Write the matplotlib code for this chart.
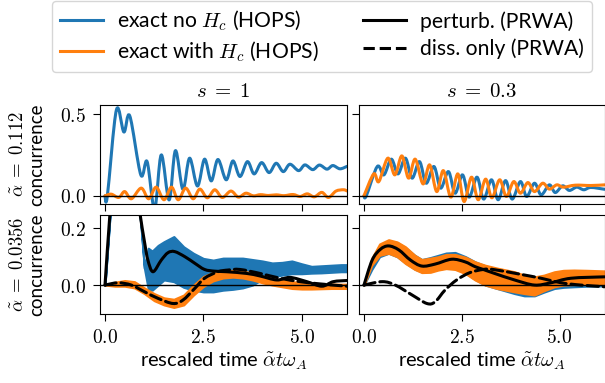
import matplotlib
matplotlib.use("Agg")
import matplotlib.pyplot as plt
from matplotlib.ticker import FormatStrFormatter
from matplotlib.lines import Line2D
from matplotlib.path import Path
from matplotlib.patches import PathPatch

plt.rcParams['mathtext.fontset'] = 'cm'
plt.rcParams['font.family'] = ['Lato', 'DejaVu Sans']
plt.rcParams['font.size'] = 14

C_NO = '#1f77b4'
C_WITH = '#ff7f0e'

# s = 1, alpha = 0.112 : exact curves (peaks / troughs)
t_a1_no = [0, 0.06, 0.29, 0.48, 0.63, 0.91, 1.07, 1.26, 1.43, 1.63, 1.79, 1.98,
           2.15, 2.35, 2.53, 2.70, 2.87, 3.08, 3.25, 3.43, 3.62, 3.79, 3.98, 4.17,
           4.35, 4.53, 4.70, 4.92, 5.08, 5.28, 5.45, 5.64, 5.79, 5.97, 6.15]
c_a1_no = [0, 0.0, 0.525, 0.39, 0.488, 0.128, 0.209, -0.08, 0.25, -0.025, 0.276, 0.04,
           0.23, 0.06, 0.224, 0.091, 0.222, 0.098, 0.213, 0.118, 0.209, 0.134, 0.203, 0.142,
           0.199, 0.148, 0.193, 0.154, 0.189, 0.16, 0.188, 0.163, 0.185, 0.165, 0.18]
t_a1_with = [0, 0.16, 0.35, 0.5, 0.67, 0.92, 1.11, 1.30, 1.50, 1.69, 1.86, 2.05, 2.24,
             2.41, 2.60, 2.79, 2.98, 3.20, 3.39, 3.58, 3.77, 3.95, 4.15, 4.35, 4.55,
             4.78, 4.96, 5.14, 5.32, 5.51, 5.68, 5.87, 6.06, 6.15]
c_a1_with = [0, 0.01, -0.01, 0.026, -0.018, 0.047, -0.018, 0.053, -0.024, 0.053, -0.024, 0.047, -0.018,
             0.041, -0.012, 0.037, -0.01, 0.029, -0.008, 0.016, 0.0, 0.007, 0.002, 0.006, 0.001,
             0.008, -0.004, 0.012, -0.006, 0.021, -0.01, 0.029, 0.037, 0.03]

# s = 0.3, alpha = 0.112
t_a3_no = [0, 0.06, 0.34, 0.51, 0.70, 0.87, 1.06, 1.23, 1.42, 1.59, 1.79, 1.96, 2.16, 2.33,
           2.52, 2.69, 2.89, 3.06, 3.26, 3.43, 3.62, 3.79, 4.0, 4.16, 4.36, 4.53, 4.74,
           4.89, 5.08, 5.25, 5.44, 5.62, 5.80, 6.15]
c_a3_no = [0, 0.0, 0.179, 0.128, 0.224, 0.134, 0.23, 0.108, 0.209, 0.077, 0.179, 0.047, 0.148, 0.016,
           0.128, -0.008, 0.114, -0.02, 0.098, -0.024, 0.093, -0.02, 0.087, -0.004, 0.077, 0.006, 0.067,
           0.02, 0.061, 0.033, 0.053, 0.037, 0.051, 0.04]
t_a3_with = [0, 0.25, 0.38, 0.61, 0.79, 0.97, 1.14, 1.31, 1.51, 1.68, 1.86, 2.03, 2.22, 2.40,
             2.56, 2.75, 2.92, 3.11, 3.27, 3.47, 3.64, 3.83, 4.0, 4.19, 4.36, 4.57, 4.74,
             4.93, 5.10, 5.4, 5.8, 6.15]
c_a3_with = [0, 0.134, 0.087, 0.23, 0.128, 0.244, 0.108, 0.224, 0.073, 0.189, 0.026, 0.154, -0.008, 0.134,
             -0.035, 0.114, -0.024, 0.102, -0.012, 0.098, -0.004, 0.087, 0.016, 0.081, 0.026, 0.077, 0.041,
             0.067, 0.053, 0.065, 0.063, 0.067]

# s = 1, alpha = 0.0356 : exact curves as envelopes of the fast oscillation
t_b1_no = [0, 0.13, 0.2, 0.85, 0.92, 1.0, 1.1, 1.2, 1.35, 1.5, 1.75, 2.0, 2.25, 2.5, 2.75,
           3.0, 3.25, 3.5, 3.75, 4.0, 4.25, 4.5, 4.75, 5.0, 5.25, 5.5, 5.75, 6.0, 6.15]
hi_b1_no = [0, 0.25, 0.30, 0.30, 0.20, 0.06, 0.13, 0.12, 0.14, 0.153, 0.171, 0.135, 0.112, 0.094, 0.088,
            0.095, 0.095, 0.095, 0.09, 0.085, 0.078, 0.08, 0.085, 0.075, 0.066, 0.068, 0.07, 0.072, 0.072]
lo_b1_no = [0, 0.25, 0.30, 0.30, 0.20, 0.06, -0.015, -0.018, 0.0, 0.018, 0.012, -0.008, -0.018, -0.024, -0.024,
            -0.018, -0.015, -0.01, 0.0, 0.02, 0.03, 0.035, 0.04, 0.04, 0.042, 0.043, 0.045, 0.047, 0.047]
t_b1_with = [0, 0.25, 0.5, 0.75, 1.0, 1.25, 1.5, 1.75, 2.0, 2.25, 2.5, 2.75, 3.0, 3.25,
             3.5, 3.75, 4.0, 4.25, 4.5, 4.75, 5.0, 5.25, 5.5, 5.75, 6.0, 6.15]
hi_b1_with = [0, 0.01, 0.016, 0.012, -0.01, -0.03, -0.045, -0.05, -0.035, 0.0, 0.03, 0.045, 0.05, 0.052,
              0.05, 0.042, 0.032, 0.024, 0.018, 0.012, 0.008, 0.006, 0.004, 0.004, 0.003, 0.003]
lo_b1_with = [0, -0.004, -0.004, -0.01, -0.03, -0.055, -0.07, -0.079, -0.07, -0.035, -0.005, 0.015, 0.025, 0.028,
              0.025, 0.018, 0.008, 0.0, -0.006, -0.012, -0.014, -0.014, -0.013, -0.012, -0.012, -0.012]
# PRWA curves
t_b1_pert = [0, 0.13, 0.2, 0.8, 0.88, 1.01, 1.09, 1.22, 1.43, 1.60, 1.77, 2.03, 2.28, 2.53,
             2.79, 3.09, 3.6, 3.94, 4.37, 4.7, 5.13, 5.51, 5.8, 6.15]
c_b1_pert = [0, 0.26, 0.35, 0.35, 0.26, 0.147, 0.088, 0.047, 0.088, 0.114, 0.118, 0.1, 0.077, 0.055,
             0.049, 0.047, 0.041, 0.032, 0.018, 0.027, 0.012, -0.004, 0.012, 0.016]
t_b1_diss = [0, 0.33, 0.67, 1.01, 1.35, 1.73, 1.98, 2.28, 2.53, 2.87, 3.13, 3.43, 3.94,
             4.45, 4.96, 5.47, 6.15]
c_b1_diss = [0, 0.008, 0.0, -0.024, -0.047, -0.065, -0.053, -0.012, 0.024, 0.047, 0.053, 0.055, 0.041,
             0.024, 0.012, 0.004, -0.004]

# s = 0.3, alpha = 0.0356
t_b3 = [0, 0.2, 0.4, 0.63, 0.85, 1.06, 1.3, 1.48, 1.7, 1.9, 2.1, 2.33, 2.6, 2.84, 3.1,
        3.4, 3.85, 4.1, 4.36, 4.6, 4.87, 5.1, 5.37, 5.7, 6.15]
hi_b3_with = [0, 0.095, 0.145, 0.16, 0.152, 0.135, 0.105, 0.09, 0.095, 0.1, 0.108, 0.108, 0.098, 0.082, 0.07,
              0.06, 0.047, 0.035, 0.029, 0.035, 0.047, 0.052, 0.053, 0.052, 0.05]
lo_b3_with = [0, 0.07, 0.105, 0.112, 0.1, 0.076, 0.055, 0.044, 0.045, 0.053, 0.058, 0.055, 0.04, 0.018, 0.0,
              -0.012, -0.024, -0.03, -0.035, -0.02, -0.006, 0.0, 0.002, 0.003, 0.003]
hi_b3_no = [0, 0.09, 0.14, 0.155, 0.15, 0.132, 0.105, 0.09, 0.097, 0.105, 0.113, 0.115, 0.1, 0.082, 0.068,
            0.057, 0.044, 0.033, 0.026, 0.03, 0.04, 0.045, 0.048, 0.048, 0.047]
lo_b3_no = [0, 0.055, 0.1, 0.112, 0.1, 0.078, 0.056, 0.046, 0.048, 0.056, 0.06, 0.058, 0.042, 0.02, 0.0,
            -0.012, -0.03, -0.038, -0.038, -0.025, -0.012, -0.008, -0.006, -0.004, -0.003]
t_b3_pert = [0, 0.21, 0.42, 0.63, 0.89, 1.19, 1.48, 1.82, 2.24, 2.58, 2.84, 3.05, 3.34, 3.85,
             4.36, 4.78, 5.29, 6.15]
c_b3_pert = [0, 0.088, 0.126, 0.138, 0.124, 0.088, 0.067, 0.074, 0.091, 0.082, 0.065, 0.055, 0.041, 0.018,
             0.0, 0.008, 0.024, 0.029]
t_b3_diss = [0, 0.47, 0.8, 1.23, 1.61, 1.82, 2.07, 2.37, 2.71, 3.05, 3.3, 4.0, 4.53, 5.04, 5.54, 6.15]
c_b3_diss = [0, 0.012, 0.0, -0.035, -0.065, -0.059, -0.018, 0.018, 0.044, 0.055, 0.055, 0.038, 0.024,
             0.008, 0.0, -0.006]


def smooth_line(ax, t, y, **kw):
    # Catmull-Rom curve through the given points, drawn as cubic Bezier segments
    n = len(t)
    verts = [(t[0], y[0])]
    codes = [Path.MOVETO]
    for i in range(n - 1):
        i0, i3 = max(i - 1, 0), min(i + 2, n - 1)
        c1 = (t[i] + (t[i + 1] - t[i0]) / 6, y[i] + (y[i + 1] - y[i0]) / 6)
        c2 = (t[i + 1] - (t[i3] - t[i]) / 6, y[i + 1] - (y[i3] - y[i]) / 6)
        verts += [c1, c2, (t[i + 1], y[i + 1])]
        codes += [Path.CURVE4] * 3
    patch = PathPatch(Path(verts, codes), fill=False, capstyle='round', joinstyle='round', **kw)
    ax.add_patch(patch)
    return patch


W, H = 605, 383
fig = plt.figure(figsize=(W / 100, H / 100), dpi=100)
ax_tl = fig.add_axes([100 / W, 1 - 204 / H, 247 / W, 99 / H])
ax_tr = fig.add_axes([359 / W, 1 - 204 / H, 245.5 / W, 99 / H], sharex=ax_tl, sharey=ax_tl)
ax_bl = fig.add_axes([100 / W, 1 - 314 / H, 247 / W, 99 / H], sharex=ax_tl)
ax_br = fig.add_axes([359 / W, 1 - 314 / H, 245.5 / W, 99 / H], sharex=ax_tl, sharey=ax_bl)

lw = 2.2

smooth_line(ax_tl, t_a1_no, c_a1_no, color=C_NO, lw=lw)
smooth_line(ax_tl, t_a1_with, c_a1_with, color=C_WITH, lw=lw)
smooth_line(ax_tr, t_a3_no, c_a3_no, color=C_NO, lw=lw)
smooth_line(ax_tr, t_a3_with, c_a3_with, color=C_WITH, lw=lw)

ax_bl.fill_between(t_b1_no, lo_b1_no, hi_b1_no, color=C_NO, lw=1.5)
ax_bl.fill_between(t_b1_with, lo_b1_with, hi_b1_with, color=C_WITH, lw=1.5)
smooth_line(ax_bl, t_b1_pert, c_b1_pert, color='k', lw=lw)
smooth_line(ax_bl, t_b1_diss, c_b1_diss, color='k', lw=lw, ls='--')

ax_br.fill_between(t_b3, lo_b3_no, hi_b3_no, color=C_NO, lw=1.5)
ax_br.fill_between(t_b3, lo_b3_with, hi_b3_with, color=C_WITH, lw=1.5)
smooth_line(ax_br, t_b3_pert, c_b3_pert, color='k', lw=lw)
smooth_line(ax_br, t_b3_diss, c_b3_diss, color='k', lw=lw, ls='--')

for ax in (ax_tl, ax_tr, ax_bl, ax_br):
    ax.axhline(0, color='k', lw=1, zorder=1.5)
    ax.xaxis.set_major_formatter(FormatStrFormatter('$%.1f$'))
    ax.yaxis.set_major_formatter(FormatStrFormatter('$%.1f$'))
    ax.tick_params(labelsize=14, length=5.3, pad=5)

ax_tl.set_xlim(-0.127, 6.15)
ax_tl.set_xticks([0, 2.5, 5.0])
ax_tl.set_ylim(-0.05, 0.555)
ax_tl.set_yticks([0.0, 0.5])
ax_bl.set_ylim(-0.102, 0.247)
ax_bl.set_yticks([0.0, 0.2])

ax_tl.tick_params(labelbottom=False)
ax_tr.tick_params(labelbottom=False, labelleft=False)
ax_br.tick_params(labelleft=False)

ax_tl.set_title('$s\\;=\\;1$', fontsize=15, pad=6)
ax_tr.set_title('$s\\;=\\;0.3$', fontsize=15, pad=6)
ax_tl.set_ylabel('$\\tilde{\\alpha}\\;=\\;0.112$\nconcurrence', fontsize=13.5, labelpad=10)
ax_bl.set_ylabel('$\\tilde{\\alpha}\\;=\\;0.0356$\nconcurrence', fontsize=13.5, labelpad=10)
ax_bl.set_xlabel('rescaled time $\\tilde{\\alpha} t \\omega_A$', fontsize=14.5, labelpad=3)
ax_br.set_xlabel('rescaled time $\\tilde{\\alpha} t \\omega_A$', fontsize=14.5, labelpad=3)

handles = [Line2D([], [], color=C_NO, lw=lw),
           Line2D([], [], color=C_WITH, lw=lw),
           Line2D([], [], color='k', lw=lw),
           Line2D([], [], color='k', lw=lw, ls='--')]
labels = ['exact no $H_c$ (HOPS)', 'exact with $H_c$ (HOPS)',
          'perturb. (PRWA)', 'diss. only (PRWA)']
fig.legend(handles, labels, ncol=2, loc='upper left', borderaxespad=0, fontsize=15.2,
           bbox_to_anchor=(52 / W, 1 - 1 / H), handlelength=2.05, borderpad=0.38,
           handletextpad=0.65, columnspacing=2.1, labelspacing=0.33)

fig.savefig('out.png', dpi=100)
